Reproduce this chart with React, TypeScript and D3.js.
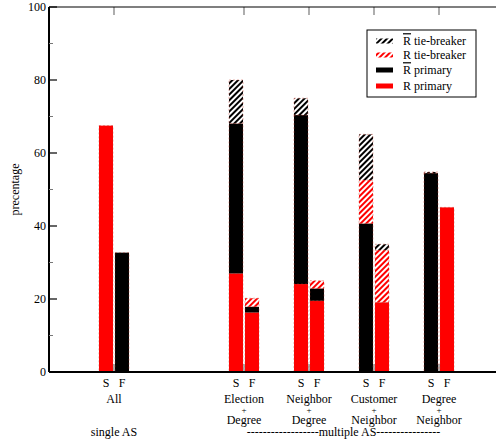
import React from 'react';
import * as d3 from 'd3';

// groups along the x axis (slot 1 is left empty in the original)
const groupNames = [['All'], ['Election', '+', 'Degree'], ['Neighbor', '+', 'Degree'], ['Customer', '+', 'Neighbor'], ['Degree', '+', 'Neighbor']];
const groupSlots = [0, 2, 3, 4, 5];
const barLabels = ['S', 'F'];

// S bars
const sRPrimary = [67.5, 27.0, 24.1, 0, 0];
const sRbarPrimary = [0, 41.1, 46.3, 40.7, 54.5];
const sRTie = [0, 0, 0, 11.9, 0];
const sRbarTie = [0, 11.9, 4.6, 12.5, 0.3];

// F bars
const fRPrimary = [0, 16.3, 19.5, 19.1, 45.1];
const fRbarPrimary = [32.7, 1.6, 3.4, 0, 0];
const fRTie = [0, 2.3, 2.1, 14.3, 0];
const fRbarTie = [0, 0, 0, 1.6, 0];

const seriesKeys = ['rPrimary', 'rbarPrimary', 'rTie', 'rbarTie'];
const seriesFill: Record<string, string> = {
  rPrimary: '#ff0000',
  rbarPrimary: '#000000',
  rTie: 'url(#hatchRed)',
  rbarTie: 'url(#hatchBlack)',
};
const legendItems = [
  { key: 'rbarTie', bar: true, text: ' tie-breaker' },
  { key: 'rTie', bar: false, text: ' tie-breaker' },
  { key: 'rbarPrimary', bar: true, text: ' primary' },
  { key: 'rPrimary', bar: false, text: ' primary' },
];
const yTicks = [0, 20, 40, 60, 80, 100];
const yMinor = [10, 30, 50, 70, 90];

const W = 496;
const H = 443;
const font = '"Liberation Serif", "DejaVu Serif", serif';

export default function App() {
  const x = d3.scaleLinear().domain([-1, 6.2]).range([49, 49 + 7.2 * 65]);
  const y = d3.scaleLinear().domain([0, 100]).range([372, 7]);
  const barW = 14;

  const rows = groupSlots.flatMap((slot, i) => [
    { slot, side: 0, rPrimary: sRPrimary[i], rbarPrimary: sRbarPrimary[i], rTie: sRTie[i], rbarTie: sRbarTie[i] },
    { slot, side: 1, rPrimary: fRPrimary[i], rbarPrimary: fRbarPrimary[i], rTie: fRTie[i], rbarTie: fRbarTie[i] },
  ]);
  const stacked = d3.stack<any>().keys(seriesKeys)(rows);
  const barX = (d: any) => (d.side === 0 ? x(d.slot) - 1 - barW : x(d.slot) + 1);

  return (
    <svg width={W} height={H} style={{ position: 'absolute', left: 0, top: 0 }} fontFamily={font}>
      <defs>
        <pattern id="hatchBlack" patternUnits="userSpaceOnUse" width="4" height="4" patternTransform="rotate(45)">
          <rect width="4" height="4" fill="#fff" />
          <rect width="2" height="4" fill="#000" />
        </pattern>
        <pattern id="hatchRed" patternUnits="userSpaceOnUse" width="4" height="4" patternTransform="rotate(45)">
          <rect width="4" height="4" fill="#fff" />
          <rect width="2" height="4" fill="#ff0000" />
        </pattern>
      </defs>

      {/* group ticks, top and bottom */}
      {groupSlots.map((s) => (
        <g key={'gt' + s} stroke="#777" strokeWidth={1.2}>
          <line x1={x(s)} x2={x(s)} y1={y(0)} y2={y(0) - 8} />
          <line x1={x(s)} x2={x(s)} y1={y(100)} y2={y(100) + 8} />
        </g>
      ))}

      {/* stacked bars */}
      {stacked.map((layer) =>
        layer.map((seg: any, j: number) => {
          const h = y(seg[0]) - y(seg[1]);
          if (h <= 0) return null;
          return (
            <rect
              key={layer.key + j}
              x={barX(seg.data)}
              y={y(seg[1])}
              width={barW}
              height={h}
              fill={seriesFill[layer.key]}
              stroke="#c0392b"
              strokeWidth={0.4}
              strokeDasharray="2,2"
            />
          );
        })
      )}

      {/* axes */}
      <line x1={49} x2={W} y1={y(100)} y2={y(100)} stroke="#000" strokeWidth={1.2} />
      <line x1={49} x2={W} y1={y(0)} y2={y(0)} stroke="#000" strokeWidth={2} />
      <line x1={49} x2={49} y1={y(100)} y2={y(0)} stroke="#000" strokeWidth={2} />
      {yTicks.map((t) => (
        <g key={'yt' + t}>
          <line x1={49} x2={57} y1={y(t)} y2={y(t)} stroke="#000" strokeWidth={1.2} />
          <text x={46} y={y(t)} dy="0.35em" textAnchor="end" fontSize={12}>
            {t}
          </text>
        </g>
      ))}
      {yMinor.map((t) => (
        <line key={'ym' + t} x1={49} x2={53} y1={y(t)} y2={y(t)} stroke="#777" strokeWidth={1} />
      ))}
      <text transform={`translate(19,${(y(0) + y(100)) / 2}) rotate(-90)`} textAnchor="middle" fontSize={12}>
        precentage
      </text>

      {/* x labels */}
      {groupSlots.map((s, i) => (
        <g key={'xl' + s} fontSize={12} textAnchor="middle">
          <text x={x(s) - 8} y={387}>{barLabels[0]}</text>
          <text x={x(s) + 8} y={387}>{barLabels[1]}</text>
          {groupNames[i].map((line, k) => (
            <text key={k} x={x(s)} y={[403, 413, 424][k]} fontSize={k === 1 ? 9 : 12}>
              {line}
            </text>
          ))}
        </g>
      ))}
      <text x={x(0)} y={436} textAnchor="middle" fontSize={12}>single AS</text>
      <text x={(x(2) + x(5)) / 2 + 2} y={436} textAnchor="middle" fontSize={12}>
        ------------------multiple AS----------------
      </text>

      {/* legend */}
      <rect x={367} y={30} width={109} height={67} fill="#fff" stroke="#000" strokeWidth={1} />
      {legendItems.map((it, i) => {
        const cy = [41, 55, 70, 86][i];
        return (
          <g key={it.key}>
            <rect x={376} y={cy - 2.5} width={17} height={5} fill={seriesFill[it.key]} />
            <text x={403} y={cy} dy="0.35em" fontSize={12}>
              <tspan style={it.bar ? { textDecoration: 'overline' } : undefined}>R</tspan>
              {it.text}
            </text>
          </g>
        );
      })}
    </svg>
  );
}
